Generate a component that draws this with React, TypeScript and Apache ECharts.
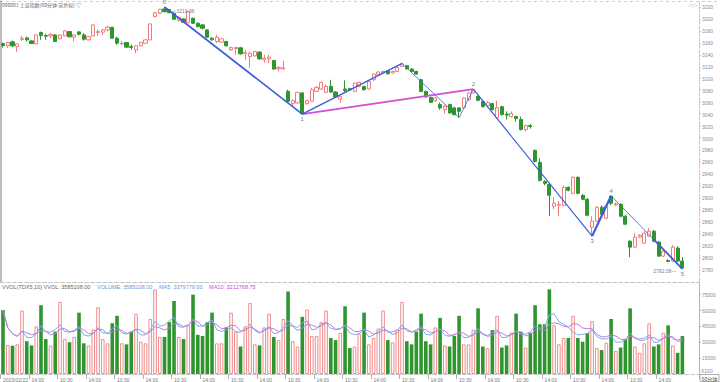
import React, { useEffect, useRef } from "react";
import * as echarts from "echarts";

// ---------- data ----------
const dateLabel = "2023/02/22";
const sessionTimes = ["10:30", "11:30", "14:00", "15:00"];
const dayCount = 36;
const blankSlots = 3;

const opens = [
  3158.8, 3155.0, 3161.7, 3153.8, 3165.8, 3168.3, 3163.3, 3158.3, 3177.2, 3172.2,
  3171.7, 3173.3, 3166.7, 3171.7, 3178.8, 3169.5, 3178.3, 3173.3, 3165.0, 3171.7,
  3177.2, 3177.8, 3181.7, 3186.2, 3167.8, 3158.3, 3160.5, 3153.8, 3148.3, 3155.0,
  3159.5, 3165.0, 3203.8, 3209.5, 3216.7, 3215.8, 3209.5, 3197.2, 3200.0, 3193.8,
  3201.2, 3192.8, 3190.0, 3181.7, 3167.8, 3162.2, 3161.2, 3162.2, 3148.3, 3150.5,
  3151.7, 3141.7, 3137.2, 3138.3, 3144.5, 3131.7, 3133.3, 3130.5, 3116.7, 3116.7,
  3078.8, 3058.3, 3059.5, 3076.2, 3058.3, 3062.2, 3078.8, 3082.8, 3077.2, 3087.2,
  3077.8, 3066.2, 3082.8, 3083.3, 3078.8, 3087.2, 3087.2, 3082.8, 3098.3, 3106.7,
  3109.5, 3113.3, 3109.5, 3112.2, 3120.5, 3121.7, 3116.2, 3112.2, 3098.3, 3078.8,
  3068.8, 3063.3, 3056.7, 3048.3, 3056.7, 3051.2, 3051.2, 3051.2, 3065.0, 3076.2,
  3070.5, 3061.7, 3055.0, 3058.3, 3035.0, 3053.3, 3040.8, 3036.7, 3036.7, 3031.7,
  3015.0, 3021.7, 2980.0, 2960.0, 2928.3, 2923.3, 2886.7, 2888.3, 2888.3, 2918.3,
  2908.3, 2935.0, 2905.0, 2898.3, 2851.7, 2861.7, 2885.0, 2866.7, 2903.3, 2889.2,
  2890.0, 2870.0, 2828.3, 2818.3, 2835.0, 2825.0, 2836.7, 2845.0, 2826.7, 2803.3,
  2795.8, 2795.0, 2816.7, 2795.0,
];
const closes = [
  3155.5, 3160.5, 3155.0, 3158.3, 3167.5, 3165.0, 3158.8, 3173.3, 3172.2, 3171.2,
  3174.2, 3162.2, 3173.3, 3180.0, 3170.0, 3173.3, 3174.5, 3166.2, 3170.5, 3190.0,
  3178.8, 3181.7, 3186.2, 3167.8, 3159.5, 3159.2, 3152.8, 3152.2, 3155.0, 3160.5,
  3165.0, 3191.7, 3210.5, 3216.2, 3212.2, 3210.5, 3199.5, 3202.8, 3194.5, 3212.2,
  3192.8, 3187.2, 3184.5, 3169.5, 3165.0, 3169.5, 3166.7, 3155.0, 3152.2, 3152.2,
  3141.7, 3143.8, 3142.8, 3145.5, 3133.3, 3134.5, 3136.2, 3116.2, 3118.8, 3118.3,
  3062.2, 3063.3, 3077.2, 3041.7, 3063.3, 3081.7, 3085.5, 3093.8, 3087.2, 3077.8,
  3069.5, 3070.5, 3080.5, 3081.2, 3092.8, 3093.8, 3081.7, 3095.5, 3107.8, 3111.2,
  3112.2, 3108.3, 3112.2, 3118.8, 3124.5, 3116.7, 3112.2, 3107.8, 3078.8, 3069.5,
  3060.5, 3067.8, 3051.2, 3053.8, 3042.8, 3040.0, 3045.5, 3067.8, 3076.2, 3081.7,
  3063.8, 3053.3, 3060.0, 3048.3, 3051.7, 3040.0, 3039.2, 3041.7, 3033.3, 3015.0,
  3021.7, 3020.0, 2961.7, 2930.0, 2925.0, 2905.0, 2891.7, 2890.0, 2918.3, 2913.3,
  2935.0, 2908.3, 2898.3, 2871.7, 2861.7, 2885.0, 2873.3, 2886.7, 2891.7, 2890.8,
  2870.0, 2856.7, 2818.3, 2835.0, 2838.3, 2841.7, 2845.0, 2828.3, 2803.3, 2811.7,
  2794.2, 2818.3, 2795.0, 2783.3,
];
const lows = [
  3152.2, 3151.7, 3152.8, 3145.0, 3163.3, 3162.2, 3158.3, 3157.5, 3165.0, 3165.0,
  3167.8, 3161.7, 3165.8, 3170.8, 3169.2, 3162.2, 3172.2, 3163.8, 3164.2, 3170.8,
  3171.7, 3173.3, 3178.8, 3167.2, 3156.7, 3155.8, 3152.2, 3148.3, 3142.8, 3154.2,
  3158.3, 3164.2, 3202.5, 3208.3, 3210.8, 3209.2, 3198.3, 3195.8, 3193.3, 3192.8,
  3191.7, 3185.8, 3182.5, 3168.3, 3163.8, 3159.5, 3160.0, 3153.8, 3146.7, 3140.0,
  3140.0, 3131.7, 3118.3, 3136.7, 3131.7, 3126.7, 3126.2, 3115.0, 3112.2, 3115.0,
  3060.8, 3053.3, 3058.3, 3040.8, 3056.7, 3061.7, 3078.3, 3081.7, 3075.8, 3076.7,
  3068.3, 3059.5, 3076.2, 3080.0, 3077.5, 3085.8, 3080.0, 3081.7, 3096.7, 3105.0,
  3108.3, 3106.7, 3108.3, 3111.2, 3119.5, 3115.0, 3110.8, 3106.7, 3077.5, 3068.3,
  3059.2, 3061.7, 3048.3, 3041.7, 3041.7, 3038.3, 3035.0, 3050.0, 3063.3, 3075.0,
  3062.5, 3051.7, 3053.3, 3046.7, 3033.3, 3038.3, 3031.7, 3035.0, 3028.3, 3013.3,
  3011.7, 3016.7, 2960.0, 2928.3, 2921.7, 2870.0, 2881.7, 2870.0, 2886.7, 2911.7,
  2906.7, 2906.7, 2896.7, 2870.0, 2836.7, 2860.0, 2871.7, 2865.0, 2888.3, 2886.7,
  2868.3, 2855.0, 2801.7, 2816.7, 2833.3, 2823.3, 2835.0, 2826.7, 2801.7, 2801.7,
  2793.3, 2793.3, 2793.3, 2782.08,
];
const highs = [
  3160.5, 3161.7, 3163.8, 3159.2, 3171.7, 3170.5, 3164.2, 3174.2, 3178.8, 3175.0,
  3176.2, 3174.2, 3174.2, 3180.8, 3180.0, 3174.2, 3180.0, 3176.2, 3171.7, 3190.8,
  3182.8, 3183.3, 3188.8, 3186.7, 3170.5, 3163.3, 3161.2, 3157.2, 3155.8, 3161.7,
  3165.8, 3192.5, 3211.7, 3216.7, 3219.96, 3216.7, 3210.8, 3204.2, 3200.8, 3213.3,
  3202.2, 3194.2, 3191.7, 3182.5, 3169.2, 3173.3, 3167.5, 3163.3, 3153.3, 3153.3,
  3153.3, 3148.3, 3145.0, 3146.7, 3145.8, 3140.0, 3140.0, 3131.7, 3120.5, 3130.0,
  3081.7, 3065.0, 3078.3, 3077.5, 3065.0, 3085.0, 3088.3, 3095.0, 3090.0, 3098.3,
  3079.2, 3071.7, 3097.2, 3085.0, 3093.3, 3095.0, 3088.3, 3096.7, 3109.2, 3112.5,
  3113.3, 3114.2, 3113.3, 3120.0, 3125.5, 3123.3, 3117.5, 3113.3, 3100.0, 3080.0,
  3070.0, 3069.2, 3060.0, 3056.7, 3058.3, 3053.3, 3052.5, 3069.2, 3077.5, 3082.5,
  3071.7, 3065.0, 3062.5, 3060.0, 3063.3, 3055.0, 3045.5, 3045.0, 3038.3, 3036.7,
  3023.3, 3024.2, 2981.7, 2966.7, 2930.0, 2925.0, 2901.7, 2895.5, 2921.7, 2920.0,
  2936.7, 2936.7, 2906.7, 2900.0, 2870.0, 2886.7, 2888.3, 2890.0, 2904.2, 2893.3,
  2891.7, 2871.7, 2830.0, 2841.7, 2840.0, 2845.0, 2850.0, 2846.7, 2828.3, 2813.3,
  2798.3, 2821.7, 2820.0, 2801.7,
];
// volume, in units of 100
const volumes = [
  60400, 27400, 26700, 28000, 60000, 31000, 27000, 45000, 65000, 33000,
  27000, 40000, 68000, 33000, 30000, 35000, 58000, 29000, 27000, 42000,
  63000, 33000, 29000, 48000, 55000, 29000, 28000, 40000, 57000, 30500,
  29000, 52000, 80000, 35000, 35000, 49000, 69000, 35000, 33000, 46000,
  75000, 37000, 36000, 49000, 58000, 29000, 29000, 44000, 58000, 40000,
  26000, 45000, 67000, 28000, 27000, 44000, 57000, 35000, 32000, 52000,
  78000, 31000, 26000, 54000, 61000, 36000, 36000, 49000, 60000, 34000,
  32000, 39000, 64000, 24500, 26000, 38000, 58000, 28000, 34000, 43000,
  60000, 32000, 30000, 42000, 68000, 31000, 28000, 40000, 57000, 31000,
  28000, 44000, 53000, 27000, 26000, 36000, 55000, 28000, 28000, 42000,
  62000, 26000, 24500, 41500, 55000, 25000, 27000, 39000, 57000, 40000,
  25000, 39000, 65000, 47000, 47000, 80000, 46000, 28000, 34000, 34000,
  55000, 34000, 30500, 38500, 50000, 24500, 22600, 29600, 52000, 21700,
  25000, 33000, 62000, 26000, 20000, 29000, 48000, 26000, 28000, 39000,
  46000, 27000, 20000, 35851,
];

// zig-zag wave pivots
const waveIdx = [34, 63, 84, 96, 99, 124, 128, 143];
const wavePrice = [3219.96, 3040.8, 3125.5, 3035.0, 3082.5, 2836.7, 2904.2, 2782.08];
const waveMarks = ["0", "1", "", "", "2", "3", "4", "5"];
const subWaveIdx = [137, 143];
const subWavePrice = [2830.8, 2782.08];
const linkIdx = [63, 99];
const linkPrice = [3040.8, 3082.5];

const highMark = { idx: 34, price: 3219.96 };
const lowMark = { idx: 143, price: 2782.08 };

const titleText = "000001 上证指数(60分钟 前复权) ▽";
const volLegend = {
  head: "VVOL(TDX5,10) VVOL: 3585108.00",
  volume: "VOLUME: 3585108.00",
  ma5: "MA5: 3379779.00",
  ma10: "MA10: 3212768.75",
};

// ---------- derived ----------
const categories: string[] = [];
for (let d = 0; d < dayCount; d++) for (const t of sessionTimes) categories.push(`${d}|${t}`);
for (let k = 0; k < blankSlots; k++) categories.push(`blank${k}`);

function movingAverage(src: number[], n: number): number[] {
  return src.map((_, i) => {
    const s = Math.max(0, i - n + 1);
    let sum = 0;
    for (let j = s; j <= i; j++) sum += src[j];
    return Math.round(sum / (i - s + 1));
  });
}

const UP = "#f07c7c";
const DOWN = "#2f952f";
const BLUE = "#3b5ddd";
const MAG = "#d24fd6";
const NUMFONT = "Liberation Sans";

export default function App() {
  const ref = useRef<HTMLDivElement>(null);
  useEffect(() => {
    if (!ref.current) return;
    const chart = echarts.init(ref.current, undefined, { renderer: "svg" });
    const n = opens.length;
    const labelInterval = (i: number) => i % 6 === 0 && i < n;

    const waveWidths = [1.6, 1.4, 0.8, 0.8, 1.2, 2.2, 0.8];
    const waveSeries: any[] = [];
    for (let s = 0; s < waveIdx.length - 1; s++) {
      waveSeries.push({
        type: "line",
        xAxisIndex: 0,
        yAxisIndex: 0,
        silent: true,
        symbol: "none",
        z: 5,
        lineStyle: { color: BLUE, width: waveWidths[s] },
        data: [
          [waveIdx[s], wavePrice[s]],
          [waveIdx[s + 1], wavePrice[s + 1]],
        ],
      });
    }

    const option: any = {
      animation: false,
      backgroundColor: "#ffffff",
      grid: [
        { left: 0.6, right: 21, top: 1, height: 281 },
        { left: 0.6, right: 21, top: 283, height: 91 },
      ],
      xAxis: [
        {
          type: "category",
          gridIndex: 0,
          data: categories,
          axisLine: { show: true, lineStyle: { color: "#c4c4c4", type: "dashed", width: 1 } },
          axisTick: { show: false },
          axisLabel: { show: false },
          splitLine: { show: false },
        },
        {
          type: "category",
          gridIndex: 1,
          data: categories,
          axisLine: { show: true, lineStyle: { color: "#c4c4c4", type: "dashed", width: 1 } },
          axisTick: { show: true, interval: labelInterval, length: 5, lineStyle: { color: "#b0b0b0" } },
          axisLabel: {
            show: true,
            interval: labelInterval,
            formatter: (v: string, i: number) => (i === 0 ? dateLabel : v.split("|")[1]),
            fontSize: 5,
            fontFamily: NUMFONT,
            color: "#7a7a7a",
            align: "left",
            margin: 3,
          },
          splitLine: { show: false },
        },
      ],
      yAxis: [
        {
          type: "value",
          gridIndex: 0,
          position: "right",
          min: 2760,
          max: 3230,
          interval: 20,
          axisLine: { show: true, lineStyle: { color: "#d9bcd9", type: "dashed" } },
          axisTick: { show: true, length: 2, lineStyle: { color: "#d9bcd9" } },
          axisLabel: {
            fontSize: 5,
            fontFamily: NUMFONT,
            color: "#8c8c8c",
            margin: 3,
            showMinLabel: false,
            showMaxLabel: false,
            formatter: (v: number) => String(v),
          },
          splitLine: { show: false },
        },
        {
          type: "value",
          gridIndex: 0,
          position: "left",
          min: 2760,
          max: 3230,
          axisLine: { show: true, lineStyle: { color: "#a8a8a8", width: 1.5 } },
          axisTick: { show: false },
          axisLabel: { show: false },
          splitLine: { show: false },
        },
        {
          type: "value",
          gridIndex: 1,
          position: "right",
          min: 0,
          max: 86000,
          interval: 15000,
          axisLine: { show: true, lineStyle: { color: "#b4b4b4" } },
          axisTick: { show: true, length: 2, lineStyle: { color: "#b4b4b4" } },
          axisLabel: {
            fontSize: 5,
            fontFamily: NUMFONT,
            color: "#8c8c8c",
            margin: 3,
            showMinLabel: false,
            showMaxLabel: false,
            formatter: (v: number) => String(v),
          },
          splitLine: { show: false },
        },
      ],
      series: [
        {
          type: "candlestick",
          xAxisIndex: 0,
          yAxisIndex: 0,
          silent: true,
          barWidth: 3.6,
          itemStyle: {
            color: "#ffffff",
            color0: DOWN,
            borderColor: UP,
            borderColor0: DOWN,
            borderWidth: 1,
          },
          data: opens.map((o, i) => [o, closes[i], lows[i], highs[i]]),
        },
        {
          type: "line",
          xAxisIndex: 0,
          yAxisIndex: 0,
          silent: true,
          symbol: "none",
          z: 4,
          lineStyle: { color: MAG, width: 1.8 },
          data: linkIdx.map((x, i) => [x, linkPrice[i]]),
        },
        ...waveSeries,
        {
          type: "line",
          xAxisIndex: 0,
          yAxisIndex: 0,
          silent: true,
          symbol: "none",
          z: 5,
          lineStyle: { color: BLUE, width: 1.8 },
          data: subWaveIdx.map((x, i) => [x, subWavePrice[i]]),
        },
        {
          type: "scatter",
          xAxisIndex: 0,
          yAxisIndex: 0,
          silent: true,
          symbolSize: 0,
          z: 6,
          data: waveIdx
            .map((x, i) => ({
              value: [x, wavePrice[i]],
              name: waveMarks[i],
              label: {
                show: waveMarks[i] !== "",
                position: i % 2 === 0 || i === 4 || i === 6 ? "top" : "bottom",
                distance: 2,
              },
            }))
            .filter((d) => d.name !== ""),
          label: {
            formatter: (p: any) => p.name,
            fontSize: 6,
            fontFamily: NUMFONT,
            color: "#555555",
          },
        },
        {
          type: "scatter",
          xAxisIndex: 0,
          yAxisIndex: 0,
          silent: true,
          symbolSize: 0,
          z: 6,
          data: [
            {
              value: [highMark.idx, highMark.price],
              label: { show: true, position: "right", offset: [2, 4], formatter: "—" + highMark.price.toFixed(2) },
            },
            {
              value: [lowMark.idx, lowMark.price],
              label: { show: true, position: "left", offset: [-1, 2], formatter: lowMark.price.toFixed(2) + "—" },
            },
          ],
          label: { fontSize: 5, fontFamily: NUMFONT, color: "#555555" },
        },
        {
          type: "bar",
          xAxisIndex: 1,
          yAxisIndex: 2,
          silent: true,
          barWidth: 3.6,
          data: volumes.map((v, i) => {
            const up = closes[i] >= opens[i];
            return {
              value: v,
              itemStyle: up
                ? { color: "#ffffff", borderColor: "#f28a8a", borderWidth: 1 }
                : { color: DOWN, borderColor: DOWN, borderWidth: 0 },
            };
          }),
        },
        {
          type: "line",
          xAxisIndex: 1,
          yAxisIndex: 2,
          silent: true,
          symbol: "none",
          z: 5,
          lineStyle: { color: "#74aeea", width: 1 },
          data: movingAverage(volumes, 5),
        },
        {
          type: "line",
          xAxisIndex: 1,
          yAxisIndex: 2,
          silent: true,
          symbol: "none",
          z: 5,
          lineStyle: { color: "#c27ad2", width: 1 },
          data: movingAverage(volumes, 10),
        },
      ],
      graphic: [
        {
          type: "line",
          silent: true,
          shape: { x1: 0, y1: 1.5, x2: 720, y2: 1.5 },
          style: { stroke: "#dcc4dc", lineWidth: 1, lineDash: [3, 3] },
        },
        {
          type: "text",
          silent: true,
          x: 2,
          y: 4.5,
          style: {
            text: titleText,
            fontSize: 5,
            fontFamily: "Noto Sans CJK SC",
            fill: "#666666",
            verticalAlign: "middle",
          },
        },
        {
          type: "text",
          silent: true,
          x: 688,
          y: 4.5,
          style: { text: "◁ ▷", fontSize: 5, fontFamily: "DejaVu Sans", fill: "#b8b8b8", verticalAlign: "middle" },
        },
        {
          type: "text",
          silent: true,
          x: 2,
          y: 286.5,
          style: {
            text:
              "{h|" + volLegend.head + "}  {v|" + volLegend.volume + "}  {v|" + volLegend.ma5 + "}  {m|" + volLegend.ma10 + "}",
            verticalAlign: "middle",
            rich: {
              h: { fontSize: 5.5, fontFamily: NUMFONT, fill: "#666666" },
              v: { fontSize: 5.5, fontFamily: NUMFONT, fill: "#5f9be0" },
              m: { fontSize: 5.5, fontFamily: NUMFONT, fill: "#c44fc8" },
            },
          },
        },
        {
          type: "text",
          silent: true,
          x: 701,
          y: 371,
          style: { text: "X100", fontSize: 5, fontFamily: NUMFONT, fill: "#8c8c8c", verticalAlign: "middle" },
        },
        {
          type: "rect",
          silent: true,
          shape: { x: 700, y: 374.5, width: 19, height: 7 },
          style: { fill: "#ffffff", stroke: "#9a9a9a", lineWidth: 0.8 },
        },
        {
          type: "text",
          silent: true,
          x: 709.5,
          y: 378,
          style: {
            text: "60分钟",
            fontSize: 5,
            fontFamily: "Noto Sans CJK SC",
            fill: "#555555",
            align: "center",
            verticalAlign: "middle",
          },
        },
      ],
    };
    chart.setOption(option);
    return () => chart.dispose();
  }, []);
  return (
    <div
      ref={ref}
      style={{ position: "fixed", left: 0, top: 0, width: 720, height: 382, background: "#ffffff" }}
    />
  );
}
